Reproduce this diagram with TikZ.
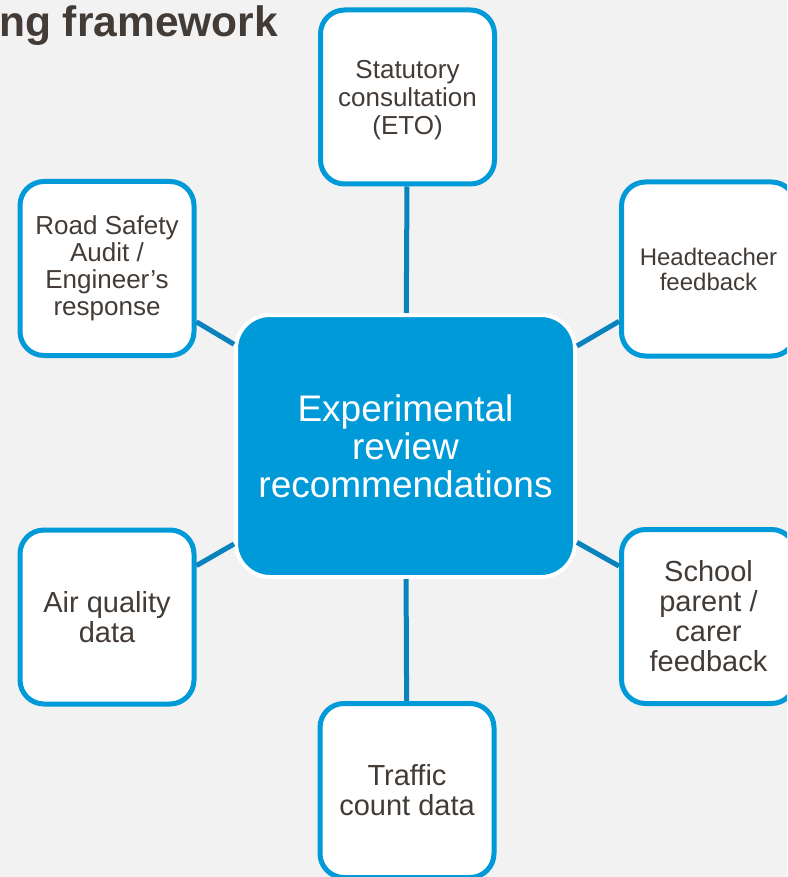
\documentclass[tikz,border=0pt]{standalone}
\usepackage{fontspec}
\setmainfont{Liberation Sans}
\definecolor{KeyBlue}{HTML}{009AD9}
\definecolor{LinkBlue}{HTML}{0A82BD}
\definecolor{InkGrey}{HTML}{433B36}
\definecolor{PageGrey}{HTML}{F2F2F2}

\begin{document}
\begin{tikzpicture}[x=1pt, y=-1pt,
  box/.style={draw=KeyBlue, line width=5pt, fill=white, rounded corners=24pt,
    minimum width=174pt, minimum height=174pt, inner sep=0pt,
    align=center, text=InkGrey},
  hub/.style={draw=white, line width=4pt, fill=KeyBlue, rounded corners=34pt,
    minimum width=339pt, minimum height=262pt, inner sep=0pt,
    align=center, text=white, font=\fontsize{37}{38}\selectfont},
  link/.style={draw=LinkBlue, line width=5pt}]
  \fill[PageGrey] (0,0) rectangle (787,877);
  \useasboundingbox (0,0) rectangle (787,877);
  \clip (0,0) rectangle (787,877);

  \node[anchor=base west, inner sep=0pt, text=InkGrey,
    font=\bfseries\fontsize{42.5}{48}\selectfont] (title) at (-1,37) {ng framework};

  % hub and the six inputs round it
  \node[hub] (centre) at (405.5,446) {Experimental\\review\\recommendations};
  \node[box, font=\fontsize{26}{28}\selectfont, text depth=0pt] (stat) at (407.5,97)
    {Statutory\\consultation\\(ETO)};
  \node[box, font=\fontsize{26}{27}\selectfont] (road) at (107,268.5)
    {Road Safety\\Audit /\\Engineer’s\\response};
  \node[box, font=\fontsize{24}{25}\selectfont] (head) at (708.5,269)
    {Headteacher\\feedback};
  \node[box, font=\fontsize{29}{30}\selectfont] (air) at (107,617)
    {Air quality\\data};
  \node[box, font=\fontsize{29}{30}\selectfont] (school) at (708.5,616.5)
    {School\\parent /\\carer\\feedback};
  \node[box, font=\fontsize{29}{30}\selectfont] (traffic) at (407,790.5)
    {Traffic\\count data};

  % spokes
  \draw[link] (stat) -- (centre);
  \draw[link] (road) -- (centre);
  \draw[link] (head) -- (centre);
  \draw[link] (air) -- (centre);
  \draw[link] (school) -- (centre);
  \draw[link] (traffic) -- (centre);
\end{tikzpicture}
\end{document}
